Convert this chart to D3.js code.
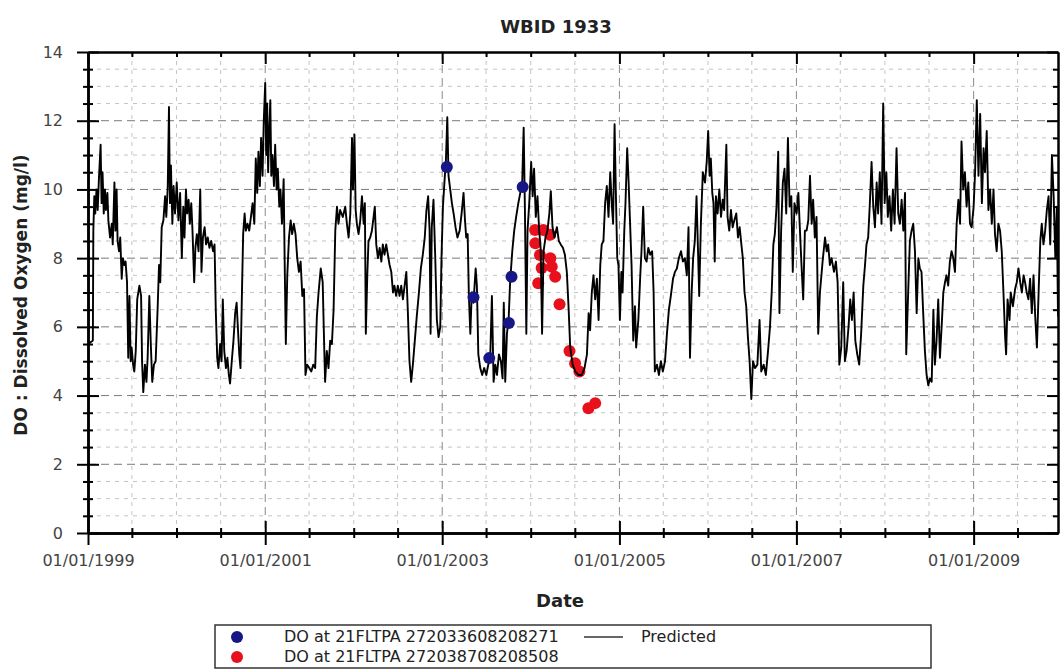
<!DOCTYPE html>
<html>
<head>
<meta charset="utf-8">
<script src="https://d3js.org/d3.v7.min.js"></script>
<style>
  body { margin: 0; background: #fff; }
  svg { font-family: "DejaVu Sans", Verdana, sans-serif; }
</style>
</head>
<body>
<svg id="chart" width="1060" height="671"></svg>
<script>
// predicted DO, one array per year: [day of year, mg/l]
var pred1999 = [[0,10.0],[1,5.5],[20,5.6],[22,8.8],[26,9.8],[30,9.3],[35,10.0],[40,9.4],[45,10.3],[52,11.3],[56,9.6],[60,10.5],[65,9.3],[70,10.0],[74,9.4],[80,9.9],[84,9.1],[91,8.6],[98,9.0],[102,8.4],[109,10.2],[113,8.8],[118,10.0],[122,8.5],[128,8.2],[133,8.6],[139,7.4],[144,8.0],[150,7.8],[155,7.9],[161,7.3],[166,5.1],[171,6.9],[176,5.0],[180,5.4],[186,4.9],[191,4.7],[197,5.3],[203,6.8],[212,7.2],[219,6.9],[223,5.0],[228,4.1],[235,4.9],[241,4.4],[246,5.1],[253,6.9],[259,5.5],[265,4.4],[272,4.9],[279,5.0],[287,6.5],[293,7.8],[298,7.3],[304,8.9],[311,9.1],[318,9.8],[323,9.2],[329,10.1],[334,12.4],[338,9.6],[342,10.7],[348,9.0],[353,10.1],[359,9.3]];
var pred2000 = [[1,10.2],[8,9.1],[15,9.9],[22,8.0],[28,9.5],[33,8.6],[39,10.0],[44,9.3],[50,9.7],[55,9.0],[61,9.6],[66,8.8],[73,7.3],[78,8.3],[84,8.7],[91,8.2],[98,10.0],[103,7.6],[109,8.6],[116,8.9],[122,8.4],[129,8.6],[136,8.3],[143,8.5],[151,8.2],[157,8.4],[162,6.5],[168,5.1],[173,4.8],[180,5.5],[186,5.0],[191,6.8],[197,5.3],[204,4.8],[210,5.1],[216,4.6],[221,4.35],[228,5.0],[235,5.6],[242,6.4],[248,6.7],[253,6.0],[259,5.2],[264,4.8],[270,7.0],[275,8.7],[281,9.3],[286,8.8],[293,9.0],[300,8.8],[307,9.2],[314,9.6],[321,9.0],[327,10.9],[333,9.9],[338,11.1],[344,10.1],[349,11.5],[355,10.4],[360,12.0]];
var pred2001 = [[0,13.1],[4,11.0],[8,12.5],[12,10.5],[17,11.8],[21,12.6],[25,10.4],[30,11.0],[36,10.1],[41,11.3],[47,10.0],[52,10.6],[58,9.5],[63,10.0],[69,9.0],[76,10.3],[80,8.0],[85,5.5],[91,7.5],[98,8.6],[105,9.1],[111,8.7],[118,9.0],[125,8.7],[132,8.0],[139,7.6],[146,7.9],[153,6.9],[160,7.1],[166,4.6],[173,4.9],[182,4.8],[190,4.7],[198,4.9],[206,4.8],[213,6.3],[220,7.0],[229,7.7],[237,7.3],[243,5.5],[247,4.4],[254,5.3],[261,4.8],[268,5.6],[275,5.5],[282,6.5],[289,8.8],[296,9.5],[302,9.0],[309,9.4],[320,9.2],[330,9.5],[337,9.0],[344,8.6],[351,9.3],[358,11.5],[362,10.0]];
var pred2002 = [[3,11.6],[8,9.4],[13,9.0],[20,8.7],[27,9.1],[34,9.8],[41,9.0],[46,9.6],[50,5.8],[56,7.5],[61,8.5],[68,8.6],[75,8.8],[82,9.2],[87,9.5],[93,8.4],[100,8.0],[107,8.3],[114,7.9],[120,8.4],[127,8.1],[134,8.4],[141,8.1],[148,7.8],[155,7.6],[162,7.0],[168,7.2],[175,6.9],[182,7.2],[189,6.9],[196,7.2],[203,6.8],[210,7.2],[217,7.6],[223,6.5],[230,5.0],[237,4.4],[244,4.9],[252,5.6],[260,6.3],[269,7.0],[277,7.7],[285,8.1],[293,8.6],[300,9.4],[307,9.8],[313,8.8],[317,5.8],[322,8.9],[329,9.7],[336,8.1],[343,6.2],[350,5.7],[357,6.0],[362,8.0]];
var pred2003 = [[3,9.5],[10,10.3],[15,10.8],[21,12.1],[26,10.4],[33,10.0],[40,9.6],[47,9.3],[55,8.9],[63,8.6],[72,8.8],[80,9.3],[88,9.9],[94,9.1],[99,8.6],[105,8.7],[110,6.9],[116,5.8],[122,7.0],[129,6.7],[138,7.7],[143,7.2],[149,5.2],[157,4.8],[165,4.6],[173,4.8],[182,4.6],[190,4.9],[198,5.1],[205,6.9],[212,4.4],[219,4.9],[226,4.6],[234,5.2],[242,5.0],[249,4.5],[254,6.7],[260,4.4],[267,5.8],[274,6.2],[280,7.3],[289,8.2],[297,8.8],[305,9.2],[314,9.6],[322,9.9],[330,10.2],[336,11.8],[341,9.5],[347,5.8],[352,8.8],[359,9.6]];
var pred2004 = [[2,10.8],[8,9.8],[14,10.6],[21,9.2],[28,9.8],[35,8.8],[41,8.3],[47,5.8],[53,8.2],[61,8.6],[69,8.8],[77,9.3],[83,9.95],[90,8.9],[98,8.6],[108,8.9],[116,8.5],[124,8.4],[133,8.3],[141,8.1],[149,7.6],[156,6.6],[163,5.4],[173,4.9],[184,4.7],[197,4.6],[211,4.6],[222,4.8],[232,5.2],[239,6.4],[245,5.9],[252,7.0],[259,7.5],[266,6.8],[273,7.4],[280,6.2],[287,7.8],[293,8.4],[300,8.5],[307,9.6],[314,10.1],[321,9.2],[328,10.5],[335,9.5],[340,9.0],[346,11.9],[351,10.0],[357,8.0],[362,7.8]];
var pred2005 = [[2,6.2],[8,7.6],[13,7.0],[20,8.8],[25,9.6],[32,11.2],[38,10.2],[43,9.2],[50,7.8],[57,5.6],[64,6.6],[69,5.4],[78,6.2],[86,7.5],[91,8.2],[98,9.5],[105,8.0],[112,7.9],[119,8.3],[127,8.1],[135,8.2],[141,7.0],[146,4.7],[155,4.9],[163,4.6],[171,5.0],[179,4.7],[188,5.0],[196,5.8],[204,6.5],[212,6.9],[221,7.4],[229,7.6],[237,7.7],[245,8.0],[254,8.2],[262,7.9],[270,8.0],[278,7.5],[285,8.9],[291,5.1],[298,7.0],[304,8.0],[311,8.5],[318,9.8],[325,8.0],[329,6.9],[336,9.0],[344,10.5],[353,10.2],[360,10.8]];
var pred2006 = [[1,11.7],[7,10.4],[12,10.9],[18,9.9],[23,9.6],[28,7.9],[33,9.8],[40,9.3],[47,10.0],[54,9.2],[61,9.7],[67,9.4],[76,11.3],[81,9.2],[88,8.8],[95,9.4],[102,8.9],[109,9.1],[117,9.3],[124,8.6],[131,8.9],[138,8.4],[144,8.0],[151,7.0],[158,6.6],[165,5.7],[172,5.0],[179,3.9],[186,5.0],[194,4.8],[204,4.9],[213,6.2],[220,4.7],[230,4.9],[239,4.6],[248,5.3],[256,6.0],[263,7.0],[270,8.4],[276,8.7],[283,9.5],[290,11.1],[295,6.4],[302,8.8],[309,10.2],[316,10.6],[323,9.3],[330,11.5],[337,9.5],[344,9.8],[350,7.6],[357,9.6]];
var pred2007 = [[1,9.3],[8,9.9],[14,8.9],[21,7.8],[28,6.8],[35,8.8],[42,8.8],[49,9.1],[56,10.4],[63,9.0],[69,9.7],[76,8.6],[83,9.2],[90,5.8],[97,7.0],[108,7.9],[118,8.6],[125,8.2],[131,8.4],[138,7.8],[145,8.0],[155,7.6],[163,7.9],[170,7.3],[177,4.9],[185,5.4],[193,7.3],[200,5.0],[207,5.3],[215,6.0],[222,6.8],[229,6.2],[236,7.0],[243,5.6],[251,5.2],[259,4.9],[267,5.8],[276,7.2],[283,7.8],[289,8.4],[296,8.6],[303,9.6],[310,10.8],[317,9.5],[324,8.9],[331,10.2],[337,9.3],[344,10.5],[351,9.0],[358,12.5],[364,9.6]];
var pred2008 = [[6,10.5],[12,9.2],[19,9.8],[26,8.8],[33,10.0],[40,9.0],[48,11.2],[55,9.3],[62,9.0],[69,9.7],[76,8.8],[83,9.9],[88,5.2],[96,7.0],[103,8.5],[110,8.8],[117,9.0],[124,8.2],[131,6.4],[138,8.0],[144,7.7],[151,7.6],[158,6.4],[165,5.3],[172,4.6],[179,4.3],[186,4.5],[193,4.4],[200,6.5],[206,4.9],[213,5.6],[220,6.8],[227,5.1],[234,6.0],[241,7.0],[248,7.3],[254,7.5],[261,7.2],[268,7.9],[275,8.2],[282,8.0],[289,7.6],[296,9.0],[303,9.7],[310,9.0],[316,11.4],[323,10.0],[330,10.5],[337,9.5],[344,10.2],[351,9.0],[358,8.9]];
var pred2009 = [[0,9.5],[6,10.5],[13,12.6],[20,10.4],[27,12.2],[34,9.6],[41,11.2],[47,10.5],[54,11.7],[61,9.4],[68,10.0],[75,9.0],[82,10.0],[88,8.7],[95,8.2],[102,9.0],[109,8.8],[116,8.2],[123,7.0],[130,5.7],[134,5.2],[140,6.8],[148,6.2],[153,7.0],[162,6.6],[171,7.1],[178,7.3],[185,7.7],[192,7.3],[199,7.0],[206,7.5],[212,7.3],[219,7.0],[226,6.8],[233,7.4],[240,6.4],[247,7.5],[254,6.3],[261,5.4],[268,7.0],[275,8.5],[281,9.0],[288,8.4],[295,8.8],[302,9.4],[309,9.8],[316,8.4],[323,11.0],[330,9.8],[337,8.0],[343,9.5],[348,6.3]];

var predYears = [1999, 2000, 2001, 2002, 2003, 2004, 2005, 2006, 2007, 2008, 2009];
var predByYear = [pred1999, pred2000, pred2001, pred2002, pred2003, pred2004, pred2005, pred2006, pred2007, pred2008, pred2009];

// observed samples
var blueDates = ["2003-01-20", "2003-05-10", "2003-07-14", "2003-10-03", "2003-10-14", "2003-11-29"];
var blueValues = [10.65, 6.86, 5.09, 6.11, 7.46, 10.07];
var redDates = ["2004-01-19", "2004-01-20", "2004-02-01", "2004-02-08", "2004-02-15", "2004-02-22", "2004-03-21", "2004-03-22", "2004-03-28", "2004-04-11", "2004-04-29", "2004-06-09", "2004-07-02", "2004-07-20", "2004-08-26", "2004-09-23"];
var redValues = [8.82, 8.43, 7.27, 8.09, 7.71, 8.82, 8.68, 8.0, 7.75, 7.46, 6.66, 5.30, 4.94, 4.70, 3.63, 3.78];

var xLabelYears = [1999, 2001, 2003, 2005, 2007, 2009];
var yMajor = [0, 2, 4, 6, 8, 10, 12, 14];
var legendLabels = ["DO at 21FLTPA 272033608208271", "DO at 21FLTPA 272038708208508", "Predicted"];

var parse = d3.timeParse("%Y-%m-%d");
var pred = [];
predYears.forEach(function(yr, i) {
  predByYear[i].forEach(function(p) {
    pred.push({ date: d3.timeDay.offset(new Date(yr, 0, 1), p[0]), value: p[1] });
  });
});
var blue = blueDates.map(function(d, i) { return { date: parse(d), value: blueValues[i] }; });
var red = redDates.map(function(d, i) { return { date: parse(d), value: redValues[i] }; });

var svg = d3.select("#chart");
var m = { left: 88, right: 1058, top: 52, bottom: 533 };

var x = d3.scaleTime().domain([new Date(1999, 0, 1), new Date(2009, 11, 15)]).range([m.left, m.right]);
var y = d3.scaleLinear().domain([0, 14]).range([m.bottom, m.top]);

var xMajor = xLabelYears.map(function(yr) { return new Date(yr, 0, 1); });
var xMinor = d3.timeMonth.every(6).range(new Date(1999, 0, 1), new Date(2009, 11, 15))
  .filter(function(d) { return !(d.getMonth() === 0 && xLabelYears.indexOf(d.getFullYear()) >= 0); });
var yMinor = d3.range(0.5, 14, 0.5).filter(function(v) { return v % 2 !== 0; });

// grid
var grid = svg.append("g");
grid.selectAll(".hmin").data(yMinor).enter().append("line")
  .attr("x1", m.left).attr("x2", m.right)
  .attr("y1", function(d) { return y(d); }).attr("y2", function(d) { return y(d); })
  .attr("stroke", "#c4c4c4").attr("stroke-dasharray", "4,5");
grid.selectAll(".vmin").data(xMinor).enter().append("line")
  .attr("y1", m.top).attr("y2", m.bottom)
  .attr("x1", function(d) { return x(d); }).attr("x2", function(d) { return x(d); })
  .attr("stroke", "#c4c4c4").attr("stroke-dasharray", "4,5");
grid.selectAll(".hmaj").data(yMajor.slice(1, -1)).enter().append("line")
  .attr("x1", m.left).attr("x2", m.right)
  .attr("y1", function(d) { return y(d); }).attr("y2", function(d) { return y(d); })
  .attr("stroke", "#7a7a7a").attr("stroke-dasharray", "8,5");
grid.selectAll(".vmaj").data(xMajor.slice(1)).enter().append("line")
  .attr("y1", m.top).attr("y2", m.bottom)
  .attr("x1", function(d) { return x(d); }).attr("x2", function(d) { return x(d); })
  .attr("stroke", "#8a8a8a").attr("stroke-dasharray", "8,5");

svg.append("clipPath").attr("id", "clip").append("rect")
  .attr("x", m.left).attr("y", m.top).attr("width", m.right - m.left).attr("height", m.bottom - m.top);

var plot = svg.append("g").attr("clip-path", "url(#clip)");

plot.selectAll(".red").data(red).enter().append("circle")
  .attr("cx", function(d) { return x(d.date); })
  .attr("cy", function(d) { return y(d.value); })
  .attr("r", 6).attr("fill", "#e8101c");

var line = d3.line().x(function(d) { return x(d.date); }).y(function(d) { return y(d.value); });
plot.append("path").datum(pred).attr("d", line)
  .attr("fill", "none").attr("stroke", "#000").attr("stroke-width", 1.9).attr("stroke-linejoin", "round");

plot.selectAll(".blue").data(blue).enter().append("circle")
  .attr("cx", function(d) { return x(d.date); })
  .attr("cy", function(d) { return y(d.value); })
  .attr("r", 6).attr("fill", "#161684");

// axes: every side has ticks, major ones cross the frame
function styleAxis(g) {
  g.selectAll(".domain").attr("stroke", "#000").attr("stroke-width", 2);
  g.selectAll(".tick line").attr("stroke", "#000").attr("stroke-width", 2);
  g.selectAll("text").attr("font-size", 16).attr("fill", "#444").attr("font-family", "DejaVu Sans, Verdana, sans-serif");
}
var fmt = d3.timeFormat("%m/%d/%Y");

svg.append("g").attr("transform", "translate(0," + m.bottom + ")")
  .call(d3.axisBottom(x).tickValues(xMajor).tickSize(12).tickSizeOuter(0).tickPadding(10).tickFormat(fmt)).call(styleAxis);
svg.append("g").attr("transform", "translate(0," + m.bottom + ")")
  .call(d3.axisTop(x).tickValues(xMajor).tickSize(12).tickSizeOuter(0).tickFormat("")).call(styleAxis);
svg.append("g").attr("transform", "translate(0," + m.bottom + ")")
  .call(d3.axisBottom(x).tickValues(xMinor).tickSize(5).tickSizeOuter(0).tickFormat("")).call(styleAxis);
svg.append("g").attr("transform", "translate(0," + m.bottom + ")")
  .call(d3.axisTop(x).tickValues(xMinor).tickSize(5).tickSizeOuter(0).tickFormat("")).call(styleAxis);
svg.append("g").attr("transform", "translate(0," + m.top + ")")
  .call(d3.axisBottom(x).tickValues(xMajor).tickSize(12).tickSizeOuter(0).tickFormat("")).call(styleAxis);
svg.append("g").attr("transform", "translate(0," + m.top + ")")
  .call(d3.axisBottom(x).tickValues(xMinor).tickSize(5).tickSizeOuter(0).tickFormat("")).call(styleAxis);

svg.append("g").attr("transform", "translate(" + m.left + ",0)")
  .call(d3.axisLeft(y).tickValues(yMajor).tickSize(11).tickSizeOuter(0).tickPadding(14)).call(styleAxis);
svg.append("g").attr("transform", "translate(" + m.left + ",0)")
  .call(d3.axisRight(y).tickValues(yMajor).tickSize(11).tickSizeOuter(0).tickFormat("")).call(styleAxis);
svg.append("g").attr("transform", "translate(" + m.left + ",0)")
  .call(d3.axisLeft(y).tickValues(yMinor).tickSize(5).tickSizeOuter(0).tickFormat("")).call(styleAxis);
svg.append("g").attr("transform", "translate(" + m.left + ",0)")
  .call(d3.axisRight(y).tickValues(yMinor).tickSize(5).tickSizeOuter(0).tickFormat("")).call(styleAxis);
svg.append("g").attr("transform", "translate(" + m.right + ",0)")
  .call(d3.axisLeft(y).tickValues(yMajor).tickSize(11).tickSizeOuter(0).tickFormat("")).call(styleAxis);
svg.append("g").attr("transform", "translate(" + m.right + ",0)")
  .call(d3.axisLeft(y).tickValues(yMinor).tickSize(5).tickSizeOuter(0).tickFormat("")).call(styleAxis);

// titles
svg.append("text").attr("x", 556).attr("y", 33).attr("text-anchor", "middle")
  .attr("font-size", 18).attr("font-weight", "bold").attr("fill", "#222").text("WBID 1933");
svg.append("text").attr("x", 560).attr("y", 607).attr("text-anchor", "middle")
  .attr("font-size", 18).attr("font-weight", "bold").attr("fill", "#222").text("Date");
svg.append("text").attr("transform", "translate(27,295) rotate(-90)").attr("text-anchor", "middle")
  .attr("font-size", 17).attr("font-weight", "bold").attr("fill", "#222").text("DO : Dissolved Oxygen (mg/l)");

// legend
var lg = svg.append("g");
lg.append("rect").attr("x", 215).attr("y", 625).attr("width", 716).attr("height", 43)
  .attr("fill", "#fff").attr("stroke", "#333").attr("stroke-width", 1.5);
lg.append("circle").attr("cx", 237).attr("cy", 637).attr("r", 6).attr("fill", "#161684");
lg.append("circle").attr("cx", 237).attr("cy", 657).attr("r", 6).attr("fill", "#e8101c");
lg.append("text").attr("x", 284).attr("y", 642).attr("font-size", 16).attr("fill", "#222").text(legendLabels[0]);
lg.append("text").attr("x", 284).attr("y", 662).attr("font-size", 16).attr("fill", "#222").text(legendLabels[1]);
lg.append("line").attr("x1", 584).attr("x2", 623).attr("y1", 637).attr("y2", 637).attr("stroke", "#333").attr("stroke-width", 1.4);
lg.append("text").attr("x", 641).attr("y", 642).attr("font-size", 16).attr("fill", "#222").text(legendLabels[2]);
</script>
</body>
</html>
